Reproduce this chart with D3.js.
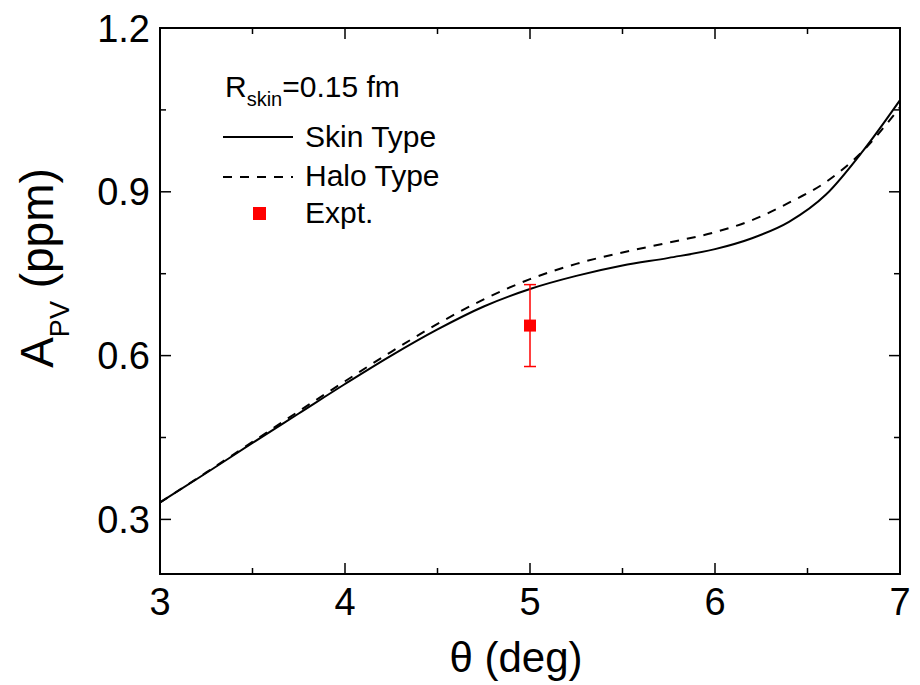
<!DOCTYPE html>
<html>
<head>
<meta charset="utf-8">
<script src="https://cdn.jsdelivr.net/npm/d3@7"></script>
<style>
body { margin: 0; background: #fff; }
text { font-family: "Liberation Sans", Arial, sans-serif; fill: #000; }
</style>
</head>
<body>
<svg width="920" height="685"></svg>
<script>
// theta (deg) grid shared by both curves
var theta = [3.0, 3.25, 3.5, 3.75, 4.0, 4.25, 4.5, 4.75, 5.0, 5.25, 5.5, 5.75, 6.0, 6.2, 6.4, 6.6, 6.8, 7.0];
var skinType = [0.331, 0.385, 0.44, 0.494, 0.548, 0.600, 0.648, 0.690, 0.722, 0.746, 0.765, 0.779, 0.795, 0.815, 0.845, 0.895, 0.975, 1.068];
var haloType = [0.331, 0.386, 0.442, 0.498, 0.553, 0.607, 0.658, 0.703, 0.740, 0.768, 0.789, 0.807, 0.826, 0.848, 0.880, 0.918, 0.975, 1.055];
var expt = [{x: 5.0, y: 0.655, err: 0.075}];
var xTicks = [3, 4, 5, 6, 7];
var yTicks = [0.3, 0.6, 0.9, 1.2];

var svg = d3.select("svg"),
	pLeft = 160, pRight = 900, pTop = 28, pBottom = 574;

var x = d3.scaleLinear().domain([3, 7]).range([pLeft, pRight]);
var y = d3.scaleLinear().domain([0.2, 1.2]).range([pBottom, pTop]);

// frame
svg.append("rect")
	.attr("x", pLeft).attr("y", pTop)
	.attr("width", pRight - pLeft).attr("height", pBottom - pTop)
	.attr("fill", "none").attr("stroke", "#000").attr("stroke-width", 2);

// inward ticks on all four sides
var xMinor = [3.5, 4.5, 5.5, 6.5], yMinor = [0.45, 0.75, 1.05];
var g = svg.append("g").attr("stroke", "#000").attr("stroke-width", 1.5);
function tickX(vals, len) {
	vals.forEach(function(v) {
		g.append("line").attr("x1", x(v)).attr("x2", x(v)).attr("y1", pBottom).attr("y2", pBottom - len);
		g.append("line").attr("x1", x(v)).attr("x2", x(v)).attr("y1", pTop).attr("y2", pTop + len);
	});
}
function tickY(vals, len) {
	vals.forEach(function(v) {
		g.append("line").attr("y1", y(v)).attr("y2", y(v)).attr("x1", pLeft).attr("x2", pLeft + len);
		g.append("line").attr("y1", y(v)).attr("y2", y(v)).attr("x1", pRight).attr("x2", pRight - len);
	});
}
tickX(xTicks, 11); tickX(xMinor, 6);
tickY(yTicks, 11); tickY(yMinor, 6);

// tick labels
svg.selectAll(".xl").data(xTicks).enter().append("text")
	.attr("x", function(d) { return x(d); }).attr("y", 615)
	.attr("text-anchor", "middle").attr("font-size", 38)
	.text(function(d) { return d; });
svg.selectAll(".yl").data(yTicks).enter().append("text")
	.attr("x", 150).attr("y", function(d) { return y(d) + 13.5; })
	.attr("text-anchor", "end").attr("font-size", 38)
	.text(function(d) { return d.toFixed(1); });

// axis titles
svg.append("text").attr("x", 516).attr("y", 672).attr("text-anchor", "middle").attr("font-size", 42)
	.text("\u03b8 (deg)");
var yt = svg.append("text").attr("transform", "translate(53,268) rotate(-90)")
	.attr("text-anchor", "middle").attr("font-size", 46);
yt.append("tspan").text("A");
yt.append("tspan").attr("font-size", 27).attr("dy", 16).text("PV");
yt.append("tspan").attr("dy", -16).text(" (ppm)");

// curves
var line = d3.line()
	.x(function(d, i) { return x(theta[i]); })
	.y(function(d) { return y(d); })
	.curve(d3.curveMonotoneX);
svg.append("path").datum(skinType).attr("d", line)
	.attr("fill", "none").attr("stroke", "#000").attr("stroke-width", 2);
svg.append("path").datum(haloType).attr("d", line)
	.attr("fill", "none").attr("stroke", "#000").attr("stroke-width", 2)
	.attr("stroke-dasharray", "9,8");

// experimental point
var ep = svg.selectAll(".ep").data(expt).enter().append("g").attr("stroke", "red").attr("stroke-width", 1.5);
ep.append("line").attr("x1", function(d) { return x(d.x); }).attr("x2", function(d) { return x(d.x); })
	.attr("y1", function(d) { return y(d.y + d.err); }).attr("y2", function(d) { return y(d.y - d.err); });
ep.append("line").attr("x1", function(d) { return x(d.x) - 6; }).attr("x2", function(d) { return x(d.x) + 6; })
	.attr("y1", function(d) { return y(d.y + d.err); }).attr("y2", function(d) { return y(d.y + d.err); });
ep.append("line").attr("x1", function(d) { return x(d.x) - 6; }).attr("x2", function(d) { return x(d.x) + 6; })
	.attr("y1", function(d) { return y(d.y - d.err); }).attr("y2", function(d) { return y(d.y - d.err); });
ep.append("rect").attr("x", function(d) { return x(d.x) - 6; }).attr("y", function(d) { return y(d.y) - 6; })
	.attr("width", 12).attr("height", 12).attr("fill", "red").attr("stroke", "none");

// legend
var lg = svg.append("g");
var rt = lg.append("text").attr("x", 225).attr("y", 97).attr("font-size", 30);
rt.append("tspan").text("R");
rt.append("tspan").attr("font-size", 20).attr("dy", 9).text("skin");
rt.append("tspan").attr("dy", -9).text("=0.15 fm");
lg.append("line").attr("x1", 223).attr("x2", 293).attr("y1", 137).attr("y2", 137)
	.attr("stroke", "#000").attr("stroke-width", 2);
lg.append("text").attr("x", 305).attr("y", 147).attr("font-size", 30).text("Skin Type");
lg.append("line").attr("x1", 223).attr("x2", 293).attr("y1", 177).attr("y2", 177)
	.attr("stroke", "#000").attr("stroke-width", 2).attr("stroke-dasharray", "9,8");
lg.append("text").attr("x", 305).attr("y", 186).attr("font-size", 30).text("Halo Type");
lg.append("rect").attr("x", 253).attr("y", 207).attr("width", 13).attr("height", 13).attr("fill", "red");
lg.append("text").attr("x", 305).attr("y", 223).attr("font-size", 30).text("Expt.");
</script>
</body>
</html>
